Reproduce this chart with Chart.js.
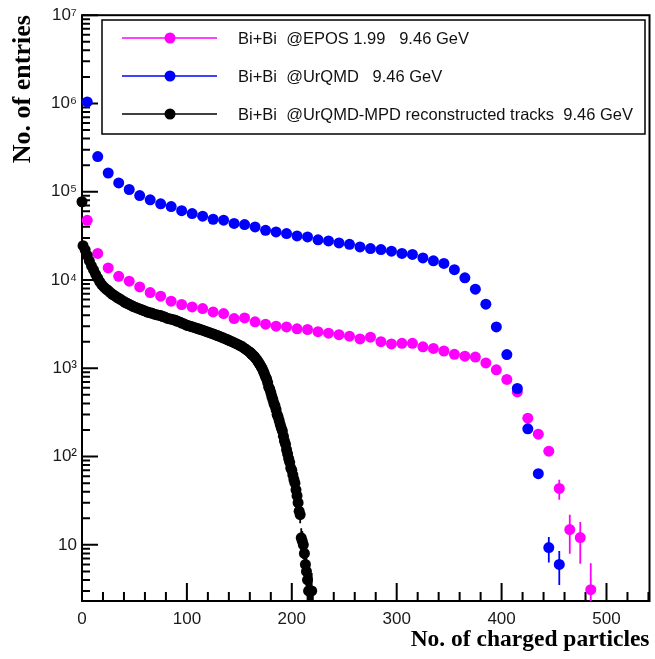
<!DOCTYPE html>
<html>
<head>
<meta charset="utf-8">
<script src="https://cdn.jsdelivr.net/npm/chart.js@4.4.0/dist/chart.umd.min.js"></script>
<style>
  html, body { margin: 0; padding: 0; background: #fff; }
  #wrap { width: 655px; height: 659px; }
</style>
</head>
<body>
<div id="wrap"><canvas id="mult" width="655" height="659"></canvas></div>
<script>
// Charged particle multiplicity, Bi+Bi at 9.46 GeV

const eposBins = [5, 15, 25, 35, 45, 55, 65, 75, 85, 95,
  105, 115, 125, 135, 145, 155, 165, 175, 185, 195,
  205, 215, 225, 235, 245, 255, 265, 275, 285, 295,
  305, 315, 325, 335, 345, 355, 365, 375, 385, 395,
  405, 415, 425, 435, 445, 455, 465, 475, 485];
const eposCounts = [47500, 20000, 13700, 11000, 9700, 8350, 7200, 6550, 5750, 5280,
  4960, 4750, 4350, 4170, 3660, 3720, 3360, 3160, 3000, 2940,
  2800, 2750, 2600, 2500, 2400, 2310, 2150, 2250, 2000, 1890,
  1920, 1920, 1750, 1680, 1570, 1440, 1370, 1340, 1150, 960,
  747, 540, 272, 179, 115, 43.5, 14.9, 12.1, 3.1];
const eposErrors = { 445: 4, 455: 11, 465: 7, 475: 6, 485: 3.1 };

const urqmdBins = [5, 15, 25, 35, 45, 55, 65, 75, 85, 95,
  105, 115, 125, 135, 145, 155, 165, 175, 185, 195,
  205, 215, 225, 235, 245, 255, 265, 275, 285, 295,
  305, 315, 325, 335, 345, 355, 365, 375, 385, 395,
  405, 415, 425, 435, 445, 455];
const urqmdCounts = [1040000, 250000, 163000, 126000, 106000, 90600, 81000, 73000, 68000, 61000,
  56600, 52800, 48800, 47600, 43700, 42500, 39900, 36600, 35100, 33600,
  31600, 30800, 28500, 27700, 26300, 25400, 23700, 22700, 22100, 21200,
  20000, 19500, 17800, 16500, 15400, 13100, 10600, 7870, 5320, 2940,
  1430, 590, 206, 64, 9.3, 6.0];
const urqmdErrors = { 445: 3, 455: 2.5 };

// reconstructed tracks: coarse bins on the plateau, unit bins on the falling edge
const mpdBins = [0, 1, 3, 5, 7, 9, 11, 13, 15, 17, 19,
  21, 23, 25, 27, 29, 31, 33, 35, 37, 39,
  41, 43, 45, 47, 49, 51, 53, 55, 57, 59,
  61, 63, 65, 67, 69, 71, 73, 75, 77, 79,
  81, 83, 85, 87, 89, 91, 93, 95, 97, 99,
  101, 103, 105, 107, 109, 111, 113, 115, 117, 119,
  121, 123, 125, 127, 129, 131, 133, 135, 137, 139,
  141, 143, 145, 147, 149, 151, 153, 155, 157, 159,
  160, 161, 162, 163, 164, 165, 166, 167, 168, 169,
  170, 171, 172, 173, 174, 175, 176, 177, 178, 179,
  180, 181, 182, 183, 184, 185, 186, 187, 188, 189,
  190, 191, 192, 193, 194, 195, 196, 197, 198, 199,
  200, 201, 202, 203, 204, 205, 206, 207, 208, 209,
  210, 211, 212, 213, 214, 215, 216, 217, 218, 219];
const mpdCounts = [77000, 24500, 22000, 19000, 16500, 14500, 13000, 11600, 10500, 9500, 8800,
  8300, 7900, 7600, 7200, 6900, 6650, 6400, 6200, 6000, 5800,
  5600, 5450, 5300, 5150, 5000, 4900, 4800, 4700, 4600, 4500,
  4400, 4300, 4250, 4200, 4100, 4050, 4000, 3950, 3850, 3800,
  3700, 3650, 3600, 3550, 3500, 3400, 3350, 3250, 3200, 3100,
  3050, 3000, 2950, 2900, 2850, 2800, 2750, 2700, 2650, 2600,
  2550, 2500, 2450, 2400, 2350, 2300, 2250, 2200, 2150, 2100,
  2050, 2000, 1950, 1900, 1850, 1800, 1750, 1680, 1620, 1550,
  1520, 1480, 1440, 1400, 1370, 1320, 1280, 1230, 1180, 1130,
  1080, 1030, 980, 920, 860, 800, 760, 690, 610, 580,
  530, 480, 440, 400, 375, 340, 300, 280, 255, 230,
  210, 195, 170, 150, 138, 120, 107, 95, 86, 74,
  70, 62, 55, 50, 42, 36, 30, 24, 22, 12,
  11, 10, 8, 6, 5, 4, 3, 3, 3, 3];
const mpdErrors = { 206: 5, 207: 4.5, 208: 4.5, 209: 3.4, 210: 3.3, 211: 3.1, 212: 2.8, 213: 2.4,
  214: 2.2, 215: 2, 216: 1.8, 217: 1.8, 218: 1.8, 219: 1.8 };

const xTicks = [0, 100, 200, 300, 400, 500];
const yTicks = [10, 100, 1e3, 1e4, 1e5, 1e6, 1e7];
const supDigits = ['⁰', '¹', '²', '³', '⁴', '⁵', '⁶', '⁷', '⁸', '⁹'];

const SANS = '"Liberation Sans", Arial, Helvetica, sans-serif';
const SERIF = '"Liberation Serif", "Times New Roman", serif';

function toPoints(bins, counts) {
  return bins.map((b, i) => ({ x: b, y: counts[i] }));
}

function decadeLabel(v) {
  const e = Math.round(Math.log10(v));
  if (e === 1) return '10';
  return '10' + supDigits[e];
}

// frame and ROOT-style inward ticks
const frameTicks = {
  id: 'frameTicks',
  beforeDatasetsDraw(chart) {
    const { ctx, chartArea: a, scales: { x, y } } = chart;
    ctx.save();
    ctx.strokeStyle = '#000';
    ctx.lineWidth = 2;
    ctx.strokeRect(a.left, a.top, a.right - a.left, a.bottom - a.top);
    ctx.beginPath();
    for (let v = 20; v <= x.max; v += 20) {
      const px = x.getPixelForValue(v);
      const len = v % 100 === 0 ? 18 : 9;
      ctx.moveTo(px, a.bottom);
      ctx.lineTo(px, a.bottom - len);
    }
    for (let e = 0; e <= 7; e++) {
      for (let m = 1; m <= 9; m++) {
        const v = m * Math.pow(10, e);
        if (v < y.min || v > y.max) continue;
        const py = y.getPixelForValue(v);
        ctx.moveTo(a.left, py);
        ctx.lineTo(a.left + (m === 1 ? 16 : 8), py);
      }
    }
    ctx.stroke();

    // vertical error bars
    ctx.beginPath();
    ctx.rect(a.left, a.top, a.right - a.left, a.bottom - a.top);
    ctx.clip();
    chart.data.datasets.forEach(ds => {
      if (!ds.errors) return;
      ctx.strokeStyle = ds.borderColor;
      ctx.lineWidth = 1.8;
      ctx.beginPath();
      ds.data.forEach(p => {
        const err = ds.errors[p.x];
        if (!err) return;
        const px = x.getPixelForValue(p.x);
        const lo = p.y - err > 0 ? y.getPixelForValue(p.y - err) : a.bottom + 5;
        ctx.moveTo(px, y.getPixelForValue(p.y + err));
        ctx.lineTo(px, lo);
      });
      ctx.stroke();
    });
    ctx.restore();
  }
};

// legend box inside the frame
const boxLegend = {
  id: 'boxLegend',
  afterDraw(chart) {
    const ctx = chart.ctx;
    const left = 102, top = 20, right = 645, bottom = 134;
    ctx.save();
    ctx.fillStyle = '#fff';
    ctx.fillRect(left, top, right - left, bottom - top);
    ctx.strokeStyle = '#000';
    ctx.lineWidth = 1.5;
    ctx.strokeRect(left, top, right - left, bottom - top);
    ctx.font = '16.5px ' + SANS;
    ctx.textBaseline = 'middle';
    chart.data.datasets.forEach((ds, i) => {
      const ry = 38 + i * 38;
      ctx.strokeStyle = ds.borderColor;
      ctx.lineWidth = 1.5;
      ctx.beginPath();
      ctx.moveTo(122, ry);
      ctx.lineTo(217, ry);
      ctx.stroke();
      ctx.fillStyle = ds.backgroundColor;
      ctx.beginPath();
      ctx.arc(170, ry, 5.5, 0, Math.PI * 2);
      ctx.fill();
      ctx.fillStyle = '#111';
      ctx.fillText(ds.label, 238, ry + 1);
    });
    ctx.restore();
  }
};

const marker = {
  pointRadius: 5.5,
  pointHoverRadius: 5.5,
  pointBorderWidth: 0,
  showLine: false,
  clip: false
};

new Chart(document.getElementById('mult'), {
  type: 'scatter',
  data: {
    datasets: [
      { ...marker, label: 'Bi+Bi  @EPOS 1.99   9.46 GeV', data: toPoints(eposBins, eposCounts),
        errors: eposErrors, backgroundColor: '#ff00ff', borderColor: '#ff00ff', order: 2 },
      { ...marker, label: 'Bi+Bi  @UrQMD   9.46 GeV', data: toPoints(urqmdBins, urqmdCounts),
        errors: urqmdErrors, backgroundColor: '#0000ff', borderColor: '#0000ff', order: 1 },
      { ...marker, label: 'Bi+Bi  @UrQMD-MPD reconstructed tracks  9.46 GeV', data: toPoints(mpdBins, mpdCounts),
        errors: mpdErrors, backgroundColor: '#000000', borderColor: '#000000', order: 0 }
    ]
  },
  options: {
    responsive: false,
    animation: false,
    devicePixelRatio: 1,
    layout: { padding: { top: 15, right: 2, left: 0, bottom: 0 } },
    plugins: { legend: { display: false }, tooltip: { enabled: false } },
    scales: {
      x: {
        type: 'linear',
        min: 0,
        max: 541,
        afterBuildTicks: s => { s.ticks = xTicks.map(v => ({ value: v })); },
        afterFit: s => { s.height = 58; },
        grid: { display: false, drawTicks: false },
        border: { display: false },
        ticks: { color: '#1a1a1a', font: { family: SANS, size: 17 }, padding: 8, maxRotation: 0, autoSkip: false, includeBounds: false },
        title: {
          display: true, text: 'No. of charged particles', align: 'end', color: '#000',
          font: { family: SERIF, size: 23.5, weight: 'bold' }, padding: { top: 0, bottom: 5 }
        }
      },
      y: {
        type: 'logarithmic',
        min: 2.31,
        max: 1e7,
        afterBuildTicks: s => { s.ticks = yTicks.map(v => ({ value: v })); },
        afterFit: s => { s.width = 82; },
        grid: { display: false, drawTicks: false },
        border: { display: false },
        ticks: { color: '#1a1a1a', font: { family: SANS, size: 17 }, padding: 5, autoSkip: false, callback: v => decadeLabel(v) },
        title: {
          display: true, text: 'No. of entries', align: 'end', color: '#000',
          font: { family: SERIF, size: 26, weight: 'bold' }, padding: { top: 8, bottom: 0 }
        }
      }
    }
  },
  plugins: [frameTicks, boxLegend]
});
</script>
</body>
</html>
